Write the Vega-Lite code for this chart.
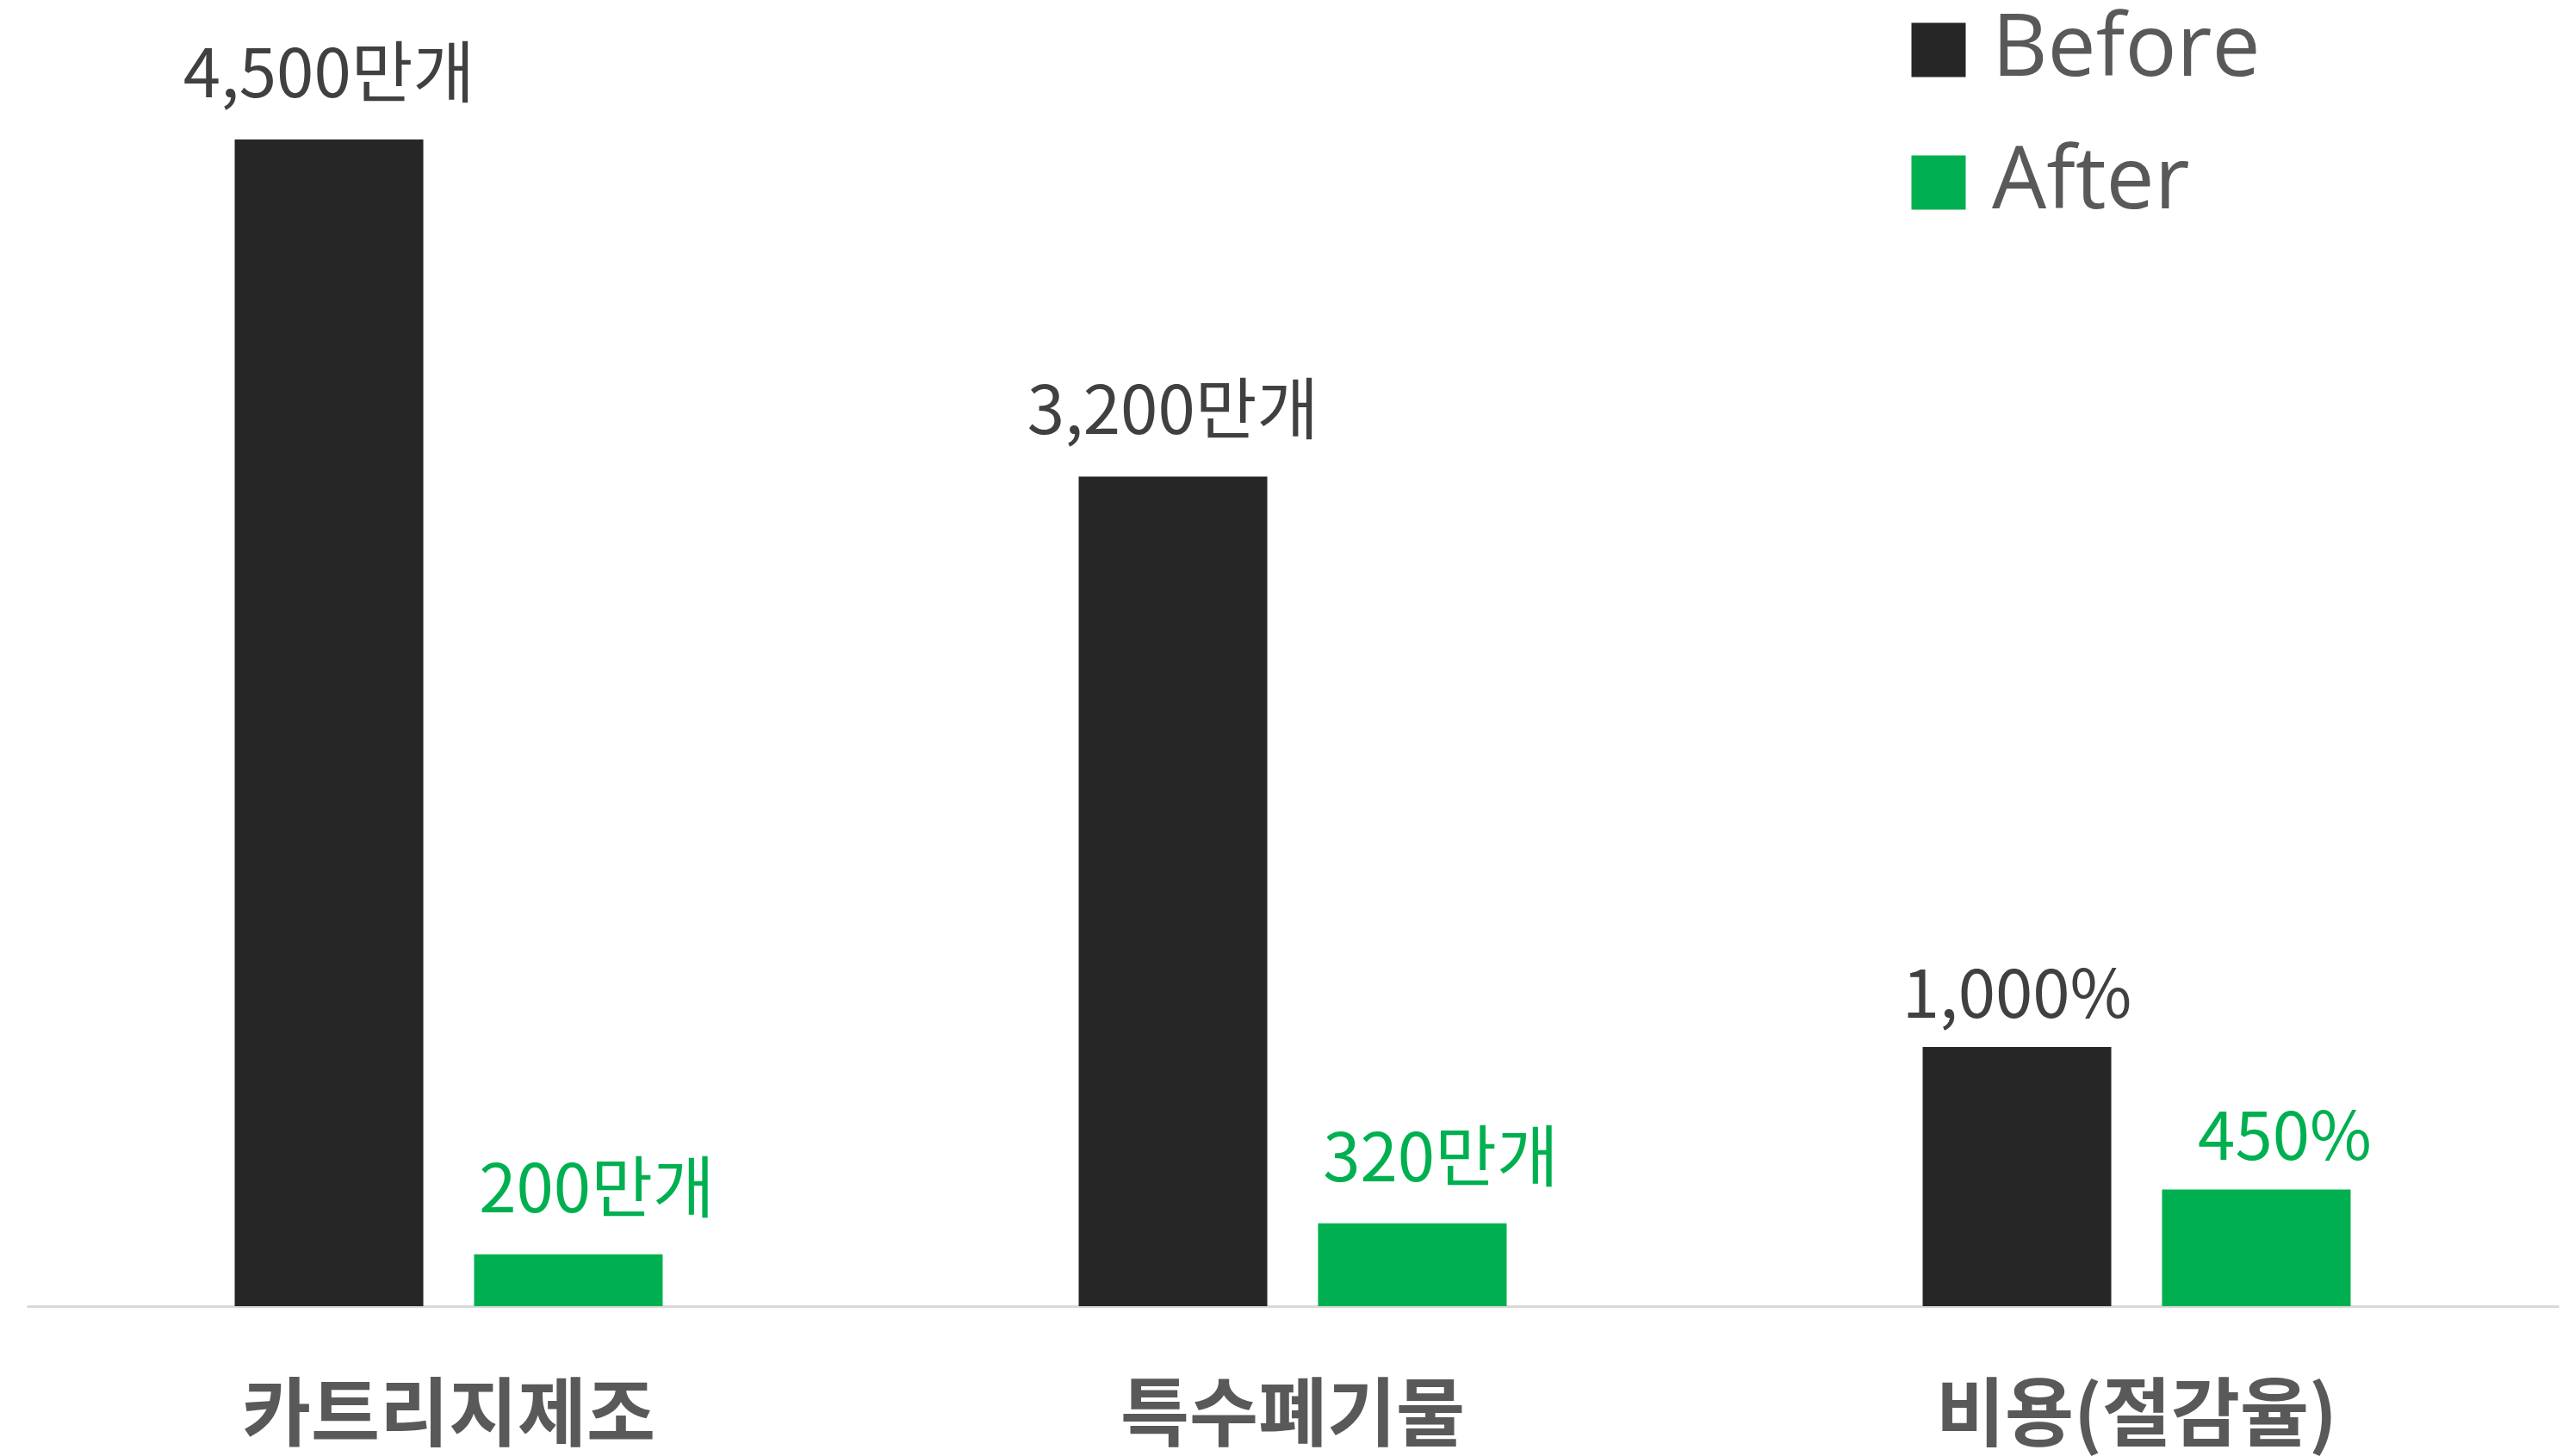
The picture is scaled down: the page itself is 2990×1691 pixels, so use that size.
{
  "$schema": "https://vega.github.io/schema/vega-lite/v6.json",
  "width": 2940,
  "height": 1517,
  "autosize": {"type": "none"},
  "padding": {"left": 31, "top": 0, "right": 19, "bottom": 174},
  "background": "white",
  "config": {"view": {"stroke": null}},
  "data": {
    "values": [
      {"cat": "카트리지제조", "series": "Before", "value": 4500, "label": "4,500만개", "unit": "count"},
      {"cat": "카트리지제조", "series": "After", "value": 200, "label": "200만개", "unit": "count"},
      {"cat": "특수폐기물", "series": "Before", "value": 3200, "label": "3,200만개", "unit": "count"},
      {"cat": "특수폐기물", "series": "After", "value": 320, "label": "320만개", "unit": "count"},
      {"cat": "비용(절감율)", "series": "Before", "value": 1000, "label": "1,000%", "unit": "percent"},
      {"cat": "비용(절감율)", "series": "After", "value": 450, "label": "450%", "unit": "percent"}
    ]
  },
  "encoding": {
    "x": {
      "field": "cat",
      "type": "nominal",
      "sort": ["카트리지제조", "특수폐기물", "비용(절감율)"],
      "scale": {"paddingInner": 0, "paddingOuter": 0},
      "axis": {
        "title": null,
        "domainColor": "#d9d9d9",
        "domainWidth": 3,
        "ticks": false,
        "labelAngle": 0,
        "labelLimit": 0,
        "labelFontSize": 87,
        "labelFont": "Noto Sans CJK KR",
        "labelFontWeight": "bold",
        "labelColor": "#595959",
        "labelPadding": 86
      }
    },
    "xOffset": {
      "field": "series",
      "type": "nominal",
      "sort": ["Before", "After"],
      "scale": {"paddingInner": 0.212, "paddingOuter": 0.869}
    },
    "y": {
      "field": "value",
      "type": "quantitative",
      "scale": {"domain": [0, 5038]},
      "axis": null
    }
  },
  "layer": [
    {
      "mark": {"type": "bar"},
      "encoding": {
        "color": {
          "field": "series",
          "type": "nominal",
          "scale": {"domain": ["Before", "After"], "range": ["#262626", "#00b050"]},
          "legend": {
            "title": null,
            "orient": "none",
            "legendX": 2170,
            "legendY": 8,
            "symbolType": "square",
            "symbolSize": 3969,
            "symbolStrokeWidth": 0,
            "labelLimit": 0,
            "labelFontSize": 100,
            "labelFont": "Open Sans",
            "labelColor": "#595959",
            "labelOffset": 12,
            "rowPadding": 54,
            "padding": 0
          }
        }
      }
    },
    {
      "transform": [{"filter": "datum.series == 'Before' && datum.unit == 'count'"}],
      "mark": {"type": "text", "baseline": "alphabetic", "dy": -49, "fontSize": 78, "font": "Noto Sans CJK KR", "color": "#404040"},
      "encoding": {"text": {"field": "label"}}
    },
    {
      "transform": [{"filter": "datum.series == 'After' && datum.unit == 'count'"}],
      "mark": {"type": "text", "baseline": "alphabetic", "dy": -49, "dx": 33, "fontSize": 78, "font": "Noto Sans CJK KR", "color": "#00b050"},
      "encoding": {"text": {"field": "label"}}
    },
    {
      "transform": [{"filter": "datum.series == 'Before' && datum.unit == 'percent'"}],
      "mark": {"type": "text", "baseline": "alphabetic", "dy": -34, "fontSize": 78, "font": "Noto Sans CJK KR", "color": "#404040"},
      "encoding": {"text": {"field": "label"}}
    },
    {
      "transform": [{"filter": "datum.series == 'After' && datum.unit == 'percent'"}],
      "mark": {"type": "text", "baseline": "alphabetic", "dy": -34, "dx": 33, "fontSize": 78, "font": "Noto Sans CJK KR", "color": "#00b050"},
      "encoding": {"text": {"field": "label"}}
    }
  ]
}
